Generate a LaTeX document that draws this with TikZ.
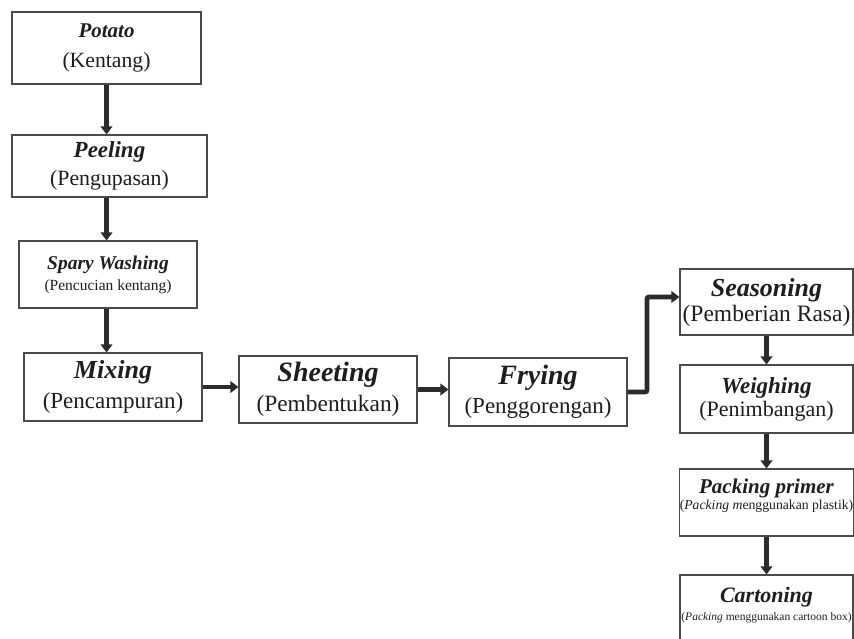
\documentclass[tikz,border=0pt]{standalone}
\usepackage{fontspec}
\setmainfont{Liberation Serif}
\usepackage{xcolor}
\usetikzlibrary{arrows.meta}
\definecolor{FlowBorder}{HTML}{4A4A4A}
\definecolor{FlowArrow}{HTML}{2B2B2B}
\definecolor{FlowText}{HTML}{1E1E1E}

\begin{document}
\begin{tikzpicture}[
  x=1pt,y=-1pt,
  box/.style={draw=FlowBorder,line width=1.1pt,fill=white,inner sep=0pt,
              align=center,text=FlowText},
  arrow/.style={-{Triangle[length=8pt,width=11.5pt]},line width=4.8pt,color=FlowArrow}
]
  \useasboundingbox (0,0) rectangle (854,638);
  % left column
  \node[box,minimum width=189pt,minimum height=72pt,font=\fontsize{21.7}{30}\selectfont]
    (potato) at (106.5,48) {{\fontsize{21}{21}\selectfont\bfseries\itshape Potato}\\(Kentang)};
  \node[box,minimum width=195pt,minimum height=62pt,font=\fontsize{21.8}{28}\selectfont]
    (peeling) at (109.5,166) {{\fontsize{23}{23}\selectfont\bfseries\itshape Peeling}\\(Pengupasan)};
  \node[box,minimum width=178pt,minimum height=67pt,font=\fontsize{15.5}{21}\selectfont]
    (washing) at (108,274.5) {{\fontsize{19.5}{19.5}\selectfont\bfseries\itshape Spary Washing}\\(Pencucian kentang)};
  % middle row
  \node[box,minimum width=178pt,minimum height=68pt,font=\fontsize{23}{30}\selectfont]
    (mixing) at (113,387) {{\fontsize{26}{26}\selectfont\bfseries\itshape Mixing}\\(Pencampuran)};
  \node[box,minimum width=178pt,minimum height=67pt,font=\fontsize{23.4}{30}\selectfont]
    (sheeting) at (328,389.5) {{\fontsize{28}{28}\selectfont\bfseries\itshape Sheeting}\\(Pembentukan)};
  \node[box,minimum width=178pt,minimum height=68pt,font=\fontsize{23}{29}\selectfont]
    (frying) at (538,392) {{\fontsize{28}{28}\selectfont\bfseries\itshape Frying}\\(Penggorengan)};
  % right column
  \node[box,minimum width=173pt,minimum height=66pt,font=\fontsize{23.5}{25}\selectfont]
    (seasoning) at (766.5,302) {{\fontsize{26}{26}\selectfont\bfseries\itshape Seasoning}\\(Pemberian Rasa)};
  \node[box,minimum width=173pt,minimum height=68pt,font=\fontsize{22}{23}\selectfont]
    (weighing) at (766.5,399) {{\fontsize{23}{23}\selectfont\bfseries\itshape Weighing}\\(Penimbangan)};
  \node[box,minimum width=173pt,minimum height=67pt,font=\fontsize{13.7}{16}\selectfont]
    (packing) at (766.5,502.5) {{\fontsize{21}{21}\selectfont\bfseries\itshape Packing primer}\\(\textit{Packing m}enggunakan plastik)\\\mbox{}};
  \node[box,minimum width=173pt,minimum height=76pt,font=\fontsize{11.5}{18}\selectfont]
    (cartoning) at (766.5,613) {{\fontsize{22}{22}\selectfont\bfseries\itshape Cartoning}\\(\textit{Packing} menggunakan cartoon box)\\\mbox{}};
  \coordinate (bend) at (647,0);
  \draw[arrow] (potato.south) -- (potato.south |- peeling.north);
  \draw[arrow] (peeling.south -| potato.south) -- (potato.south |- washing.north);
  \draw[arrow] (washing.south -| potato.south) -- (potato.south |- mixing.north);
  \draw[arrow] (mixing.east) -- (mixing.east -| sheeting.west);
  \draw[arrow] (sheeting.east) -- (sheeting.east -| frying.west);
  \draw[arrow,rounded corners=2pt] (frying.east) -- (frying.east -| bend) |- ([yshift=5pt]seasoning.west);
  \draw[arrow] (seasoning.south) -- (weighing.north);
  \draw[arrow] (weighing.south) -- (packing.north);
  \draw[arrow] (packing.south) -- (cartoning.north);
\end{tikzpicture}
\end{document}
